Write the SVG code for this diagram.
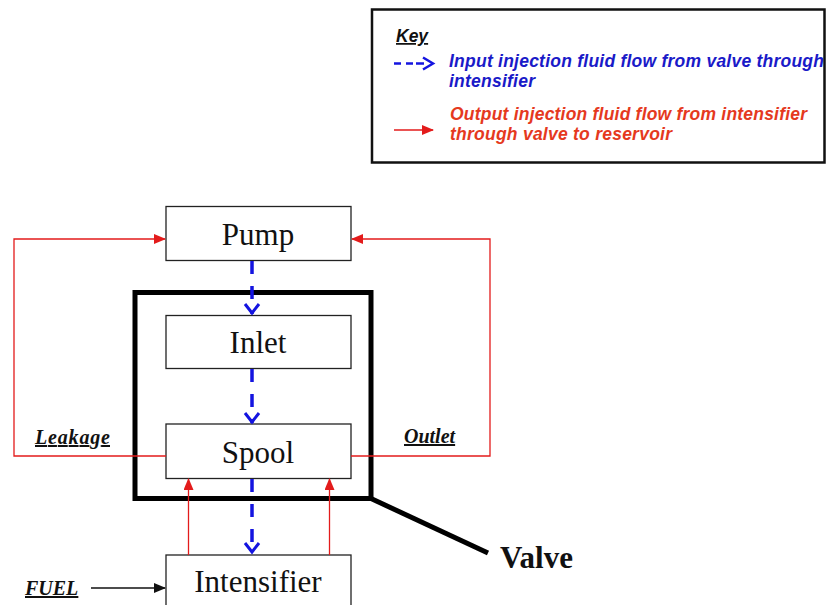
<svg xmlns="http://www.w3.org/2000/svg" width="827" height="605" viewBox="0 0 827 605">
<style>
.box{fill:#fff;stroke:#222;stroke-width:1.3}
.lbl{font-family:"Liberation Serif","Times New Roman",serif;font-size:31px;fill:#111;text-anchor:middle}
.side{font-family:"Liberation Serif","Times New Roman",serif;font-size:20px;font-weight:bold;font-style:italic;fill:#111;text-decoration:underline}
.red{fill:none;stroke:#e31b1b;stroke-width:1.3}
.blue{fill:none;stroke:#1414e0;stroke-width:3.5;stroke-dasharray:13 12}
.keyt{font-family:"Liberation Sans",Arial,sans-serif;font-size:17.5px;font-weight:bold;font-style:italic}
</style>
<defs>
<marker id="redHead" markerUnits="userSpaceOnUse" markerWidth="12" markerHeight="10" viewBox="0 0 12 10" refX="11" refY="5" orient="auto">
<path d="M0,0 L12,5 L0,10 Z" fill="#e31b1b"/>
</marker>
<marker id="blkHead" markerUnits="userSpaceOnUse" markerWidth="12" markerHeight="10" viewBox="0 0 12 10" refX="11" refY="5" orient="auto">
<path d="M0,0 L12,5 L0,10 Z" fill="#111"/>
</marker>
<marker id="blueHead" markerUnits="userSpaceOnUse" markerWidth="16" markerHeight="18" viewBox="0 0 16 18" refX="14" refY="9" orient="auto">
<path d="M4,2 L13,9 L4,16" fill="none" stroke="#1414e0" stroke-width="3"/>
</marker>
</defs>

<g id="key">
<rect x="372" y="9.5" width="452.5" height="153" fill="#fff" stroke="#111" stroke-width="2.5"/>
<text x="396" y="42" class="keyt" font-size="17" fill="#111" text-decoration="underline">Key</text>
<path d="M394,63.5 H401 M406,63.5 H413 M416,63.5 H424" stroke="#1414e0" stroke-width="2.5" fill="none"/>
<path d="M423,57.5 L433,63.5 L423,69.5" stroke="#1414e0" stroke-width="2.5" fill="none"/>
<text x="449" y="66.5" class="keyt" fill="#1a1ac8" textLength="375" lengthAdjust="spacing">Input injection fluid flow from valve through</text>
<text x="449" y="86.5" class="keyt" fill="#1a1ac8" textLength="86" lengthAdjust="spacing">intensifier</text>
<line x1="394" y1="130" x2="433" y2="130" class="red" stroke-width="1.8" marker-end="url(#redHead)"/>
<text x="450" y="119.5" class="keyt" fill="#e5391e" textLength="357" lengthAdjust="spacing">Output injection fluid flow from intensifier</text>
<text x="450" y="139.5" class="keyt" fill="#e5391e" textLength="222" lengthAdjust="spacing">through valve to reservoir</text>
</g>

<g id="valve">
<rect x="135" y="292.5" width="236" height="206" fill="none" stroke="#000" stroke-width="5"/>
<line x1="371" y1="498.5" x2="488" y2="553" stroke="#000" stroke-width="5"/>
<text x="500" y="568" font-family="'Liberation Serif','Times New Roman',serif" font-size="31" font-weight="bold" fill="#111">Valve</text>
</g>

<g id="pump">
<rect x="166" y="206.5" width="185" height="54" class="box"/>
<text x="258" y="245" class="lbl">Pump</text>
</g>
<g id="inlet">
<rect x="166" y="315.5" width="185" height="53" class="box"/>
<text x="258" y="353" class="lbl">Inlet</text>
</g>
<g id="spool">
<rect x="166" y="424" width="185" height="54.5" class="box"/>
<text x="258" y="463" class="lbl">Spool</text>
</g>
<g id="intensifier">
<rect x="166" y="555" width="185" height="60" class="box"/>
<text x="258" y="592" class="lbl">Intensifier</text>
</g>

<g id="connectors">
<path d="M252,261 V314" class="blue" marker-end="url(#blueHead)"/>
<path d="M252,369 V423" class="blue" marker-end="url(#blueHead)"/>
<path d="M252,479 V553" class="blue" marker-end="url(#blueHead)"/>
<path d="M166,456 H14 V239 H165" class="red" marker-end="url(#redHead)"/>
<path d="M351,456 H490 V239 H352" class="red" marker-end="url(#redHead)"/>
<path d="M188.5,555 V479" class="red" marker-end="url(#redHead)"/>
<path d="M329.5,555 V479" class="red" marker-end="url(#redHead)"/>
<line x1="91" y1="588" x2="165" y2="588" stroke="#111" stroke-width="1.5" marker-end="url(#blkHead)"/>
</g>

<g id="labels">
<text x="35" y="444" class="side" textLength="75" lengthAdjust="spacing">Leakage</text>
<text x="404" y="443" class="side">Outlet</text>
<text x="25" y="595" class="side">FUEL</text>
</g>
</svg>
